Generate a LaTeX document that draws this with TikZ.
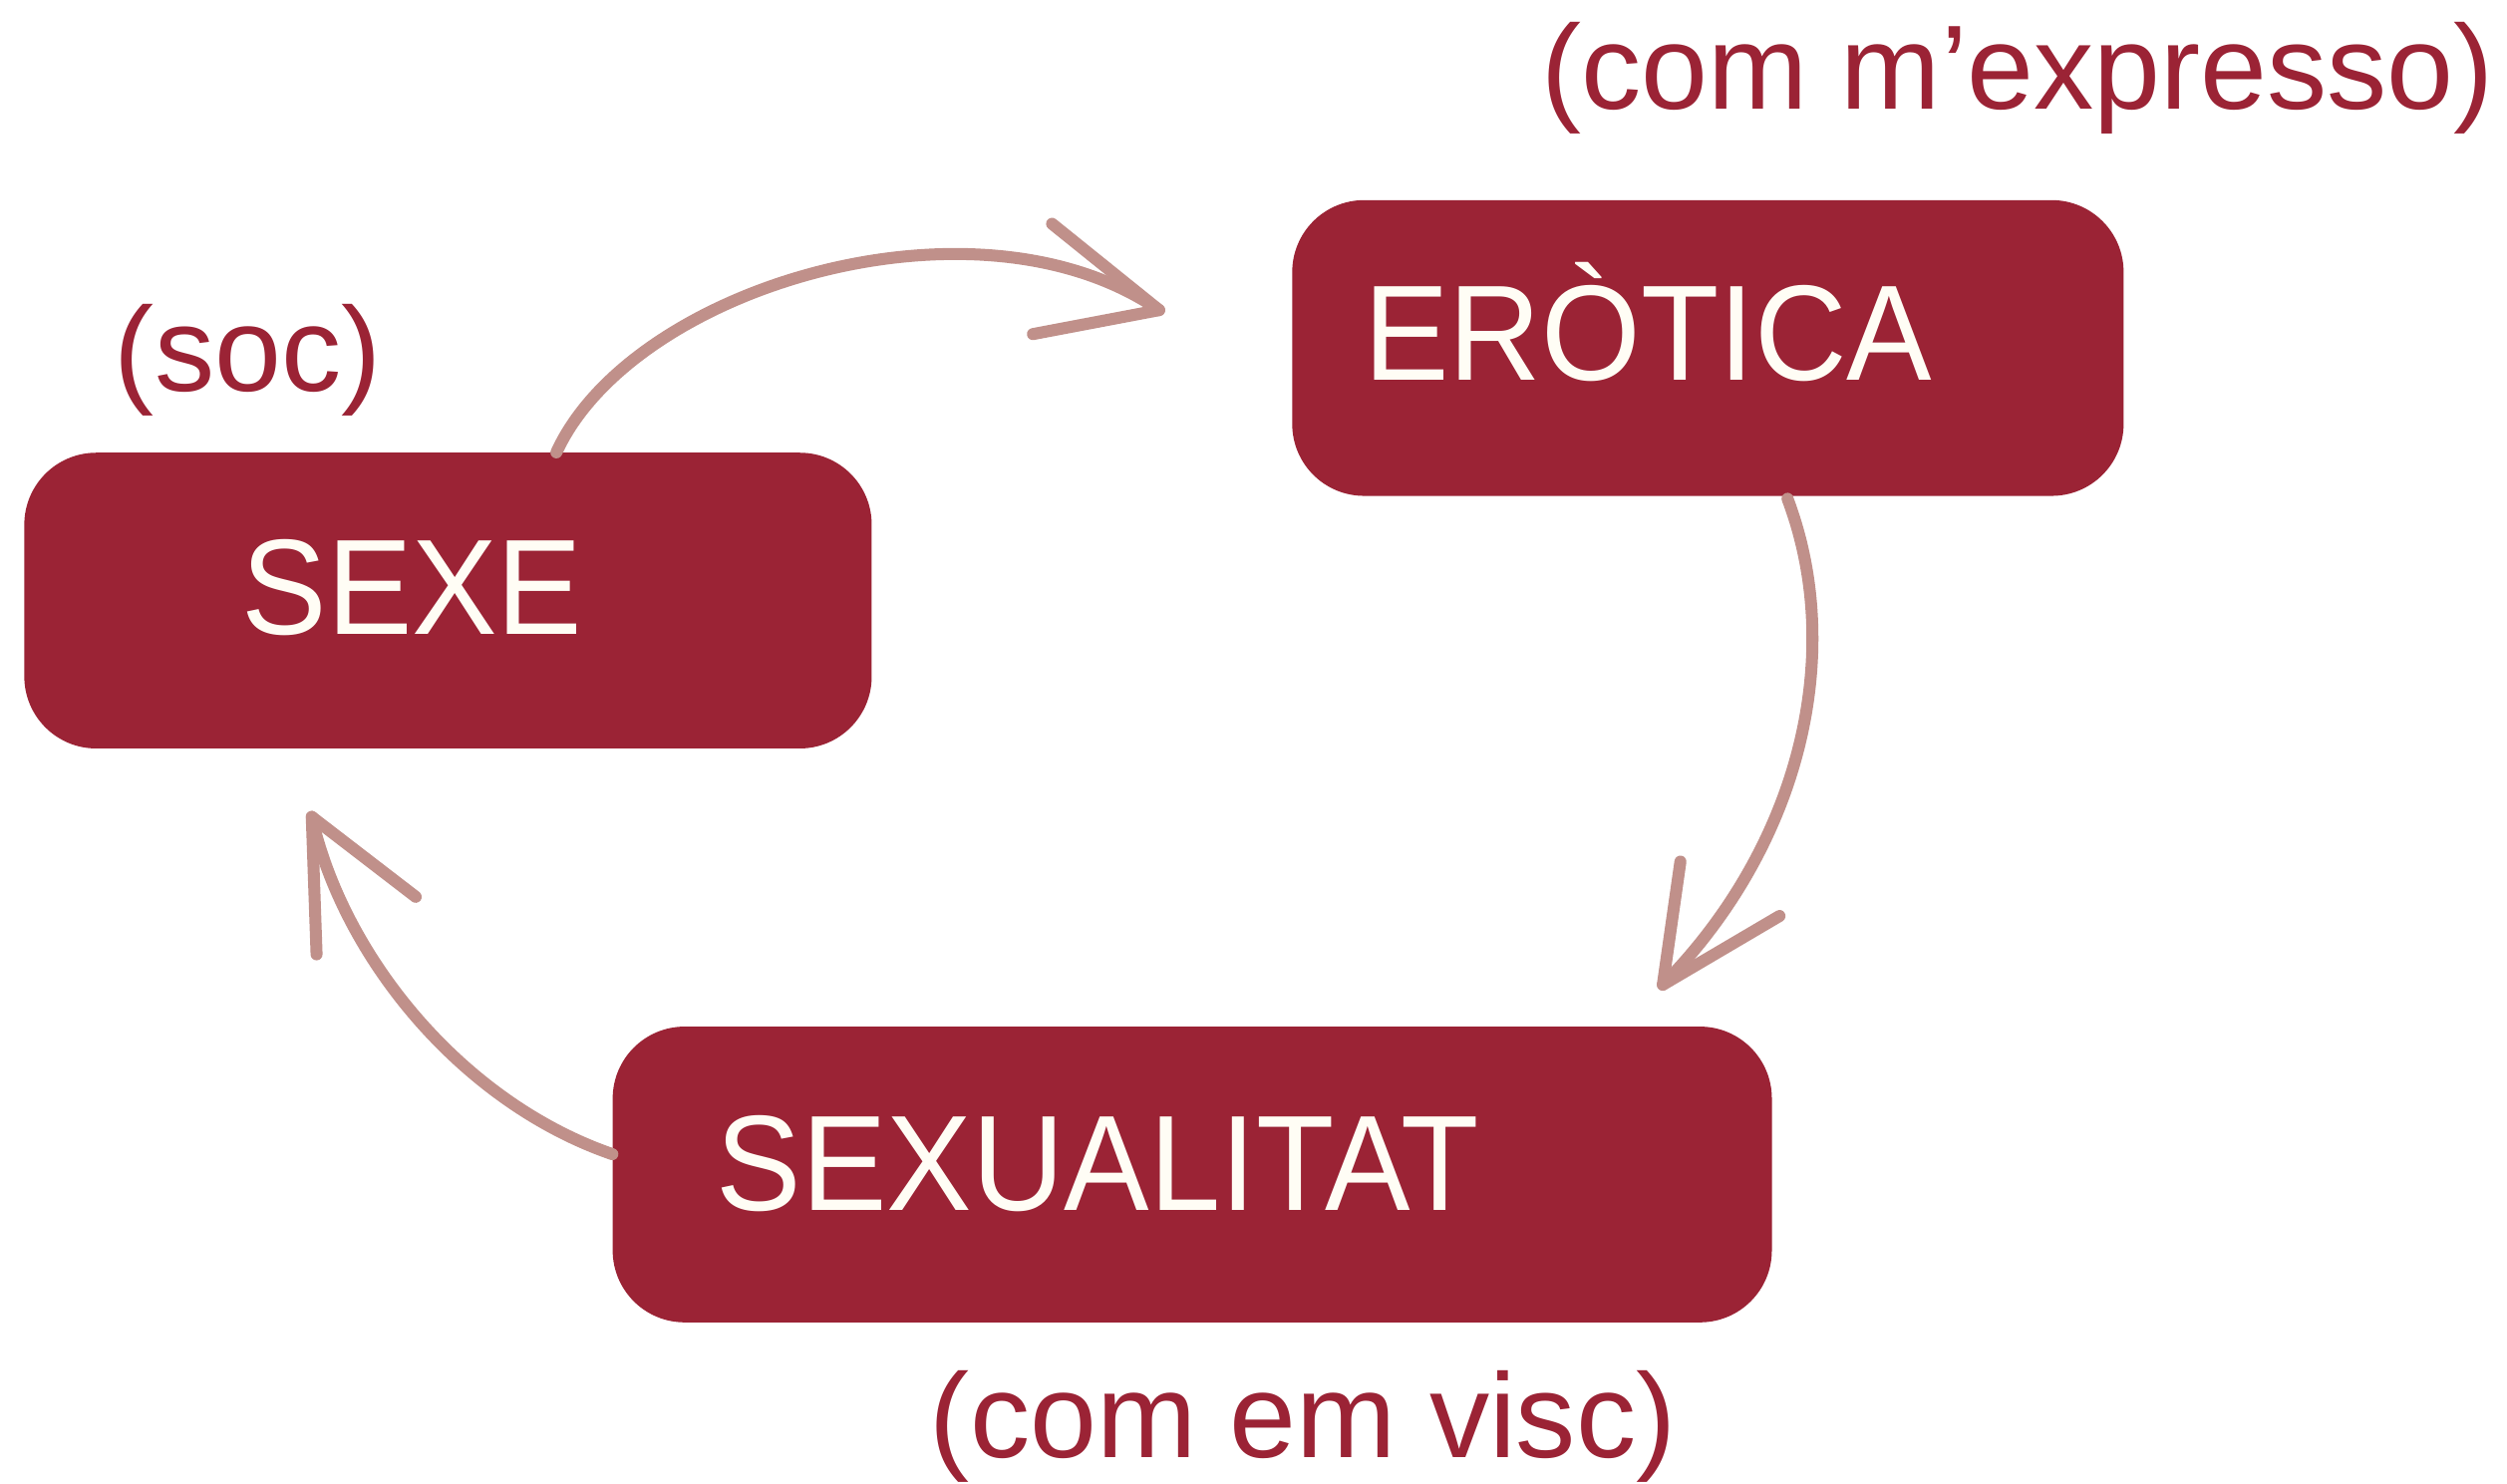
\documentclass[tikz,border=0pt]{standalone}
\usepackage{fontspec}
\setmainfont{Liberation Sans}
\newfontfamily\boxfont[FakeStretch=0.94]{Liberation Sans}
\definecolor{wine}{RGB}{155,35,53}
\definecolor{chalk}{RGB}{192,144,138}
\definecolor{cream}{RGB}{255,253,245}
\begin{document}
\begin{tikzpicture}[x=1pt,y=-1pt,
  box/.style={fill=wine, rounded corners=45pt, minimum width=#1, minimum height=185pt, inner sep=0pt, anchor=north west},
  boxtext/.style={text=cream, inner sep=0pt, anchor=base west, font=\boxfont\fontsize{85}{100}\selectfont},
  note/.style={text=wine, inner sep=0pt, anchor=base, font=\fontsize{75}{90}\selectfont},
  chalkline/.style={draw=chalk, line width=7.5pt, line cap=round, line join=round}]
\useasboundingbox (0,0) rectangle (1568,928);
\fill[white] (0,0) rectangle (1568,928);

% boxes
\node[box=530pt] (sexe) at (15,283) {};
\node[box=520pt] (erotica) at (808,125) {};
\node[box=725pt] (sexualitat) at (383,642) {};

% box texts
\node[boxtext] (tsexe) at (151,397) {SEXE};
\node[boxtext] (terotica) at (853,238) {ERÒTICA};
\node[boxtext] (tsexualitat) at (448,757) {SEXUALITAT};

% notes
\node[note] (soc) at (155,245) {(soc)};
\node[note] (expresso) at (1262,68) {(com m’expresso)};
\node[note] (visc) at (815,912) {(com em visc)};

% arrow 1: sexe -> erotica
\coordinate (a1s) at (348,283);
\coordinate (a1t) at (725,194);
\coordinate (a1u) at (658,140);
\coordinate (a1l) at (646,209);
\draw[chalkline] (a1s) .. controls (395,180) and (610,115) .. (a1t);
\draw[chalkline] (a1u) -- (a1t) -- (a1l);

% arrow 2: erotica -> sexualitat
\coordinate (a2s) at (1118,312);
\coordinate (a2t) at (1040,616);
\coordinate (a2u) at (1051,539);
\coordinate (a2l) at (1113,573);
\draw[chalkline] (a2s) .. controls (1155,410) and (1125,530) .. (a2t);
\draw[chalkline] (a2u) -- (a2t) -- (a2l);

% arrow 3: sexualitat -> sexe
\coordinate (a3s) at (383,722);
\coordinate (a3t) at (195,511);
\coordinate (a3u) at (198,597);
\coordinate (a3l) at (260,561);
\draw[chalkline] (a3s) .. controls (290,690) and (215,600) .. (a3t);
\draw[chalkline] (a3u) -- (a3t) -- (a3l);
\end{tikzpicture}
\end{document}
